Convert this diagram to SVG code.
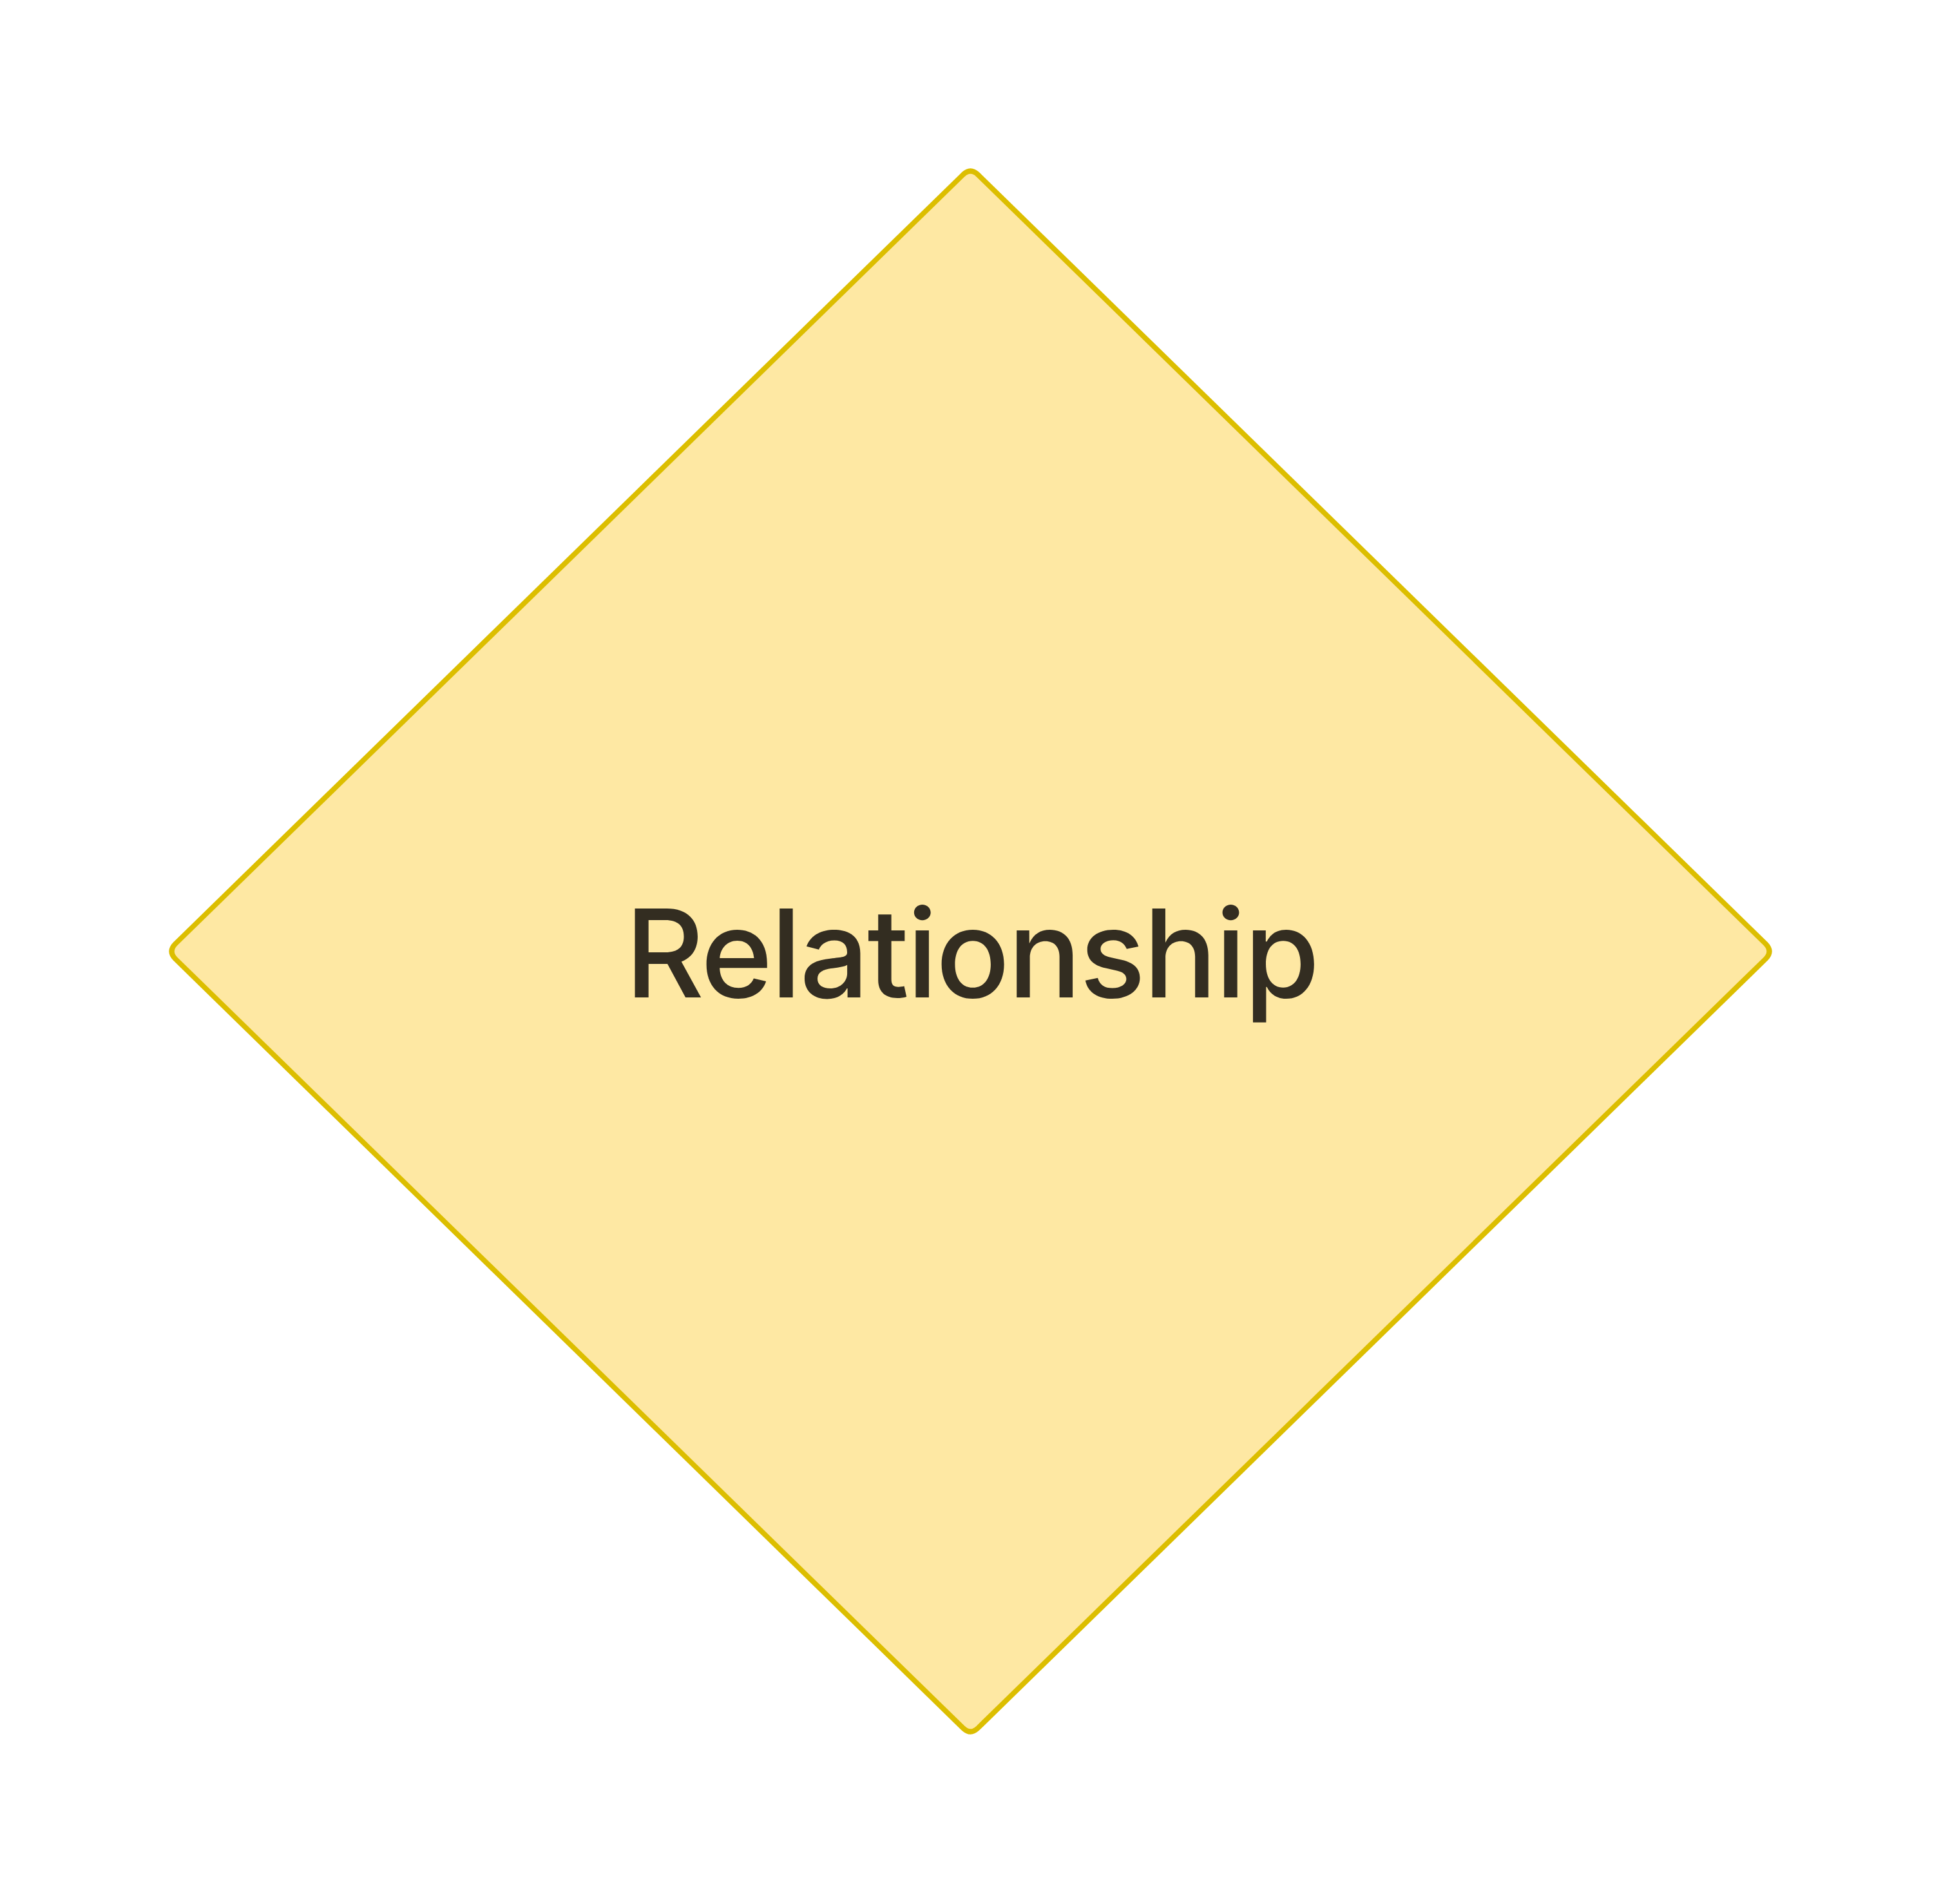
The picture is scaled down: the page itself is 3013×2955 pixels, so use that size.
<svg xmlns="http://www.w3.org/2000/svg" width="3013" height="2955" viewBox="0 0 3013 2955">
<style>
.shape{fill:#FEE8A3;stroke:#DCBE00;stroke-width:8;stroke-linejoin:round}
.label{font-family:Inter,"Noto Sans",sans-serif;font-size:190px;font-weight:500;letter-spacing:-3px;fill:#332D21}
</style>
<rect width="3013" height="2955" fill="#FFFFFF"/>
<g id="node-relationship">
<path class="shape" d="M1495,271 Q1506.5,260 1518,271 L2741,1465 Q2752,1476.5 2741,1488 L1518,2682 Q1506.5,2693 1495,2682 L272,1488 Q261,1476.5 272,1465 Z"/>
<text class="label" x="1508" y="1548" text-anchor="middle">Relationship</text>
</g>
<g id="connectors"/>
</svg>
